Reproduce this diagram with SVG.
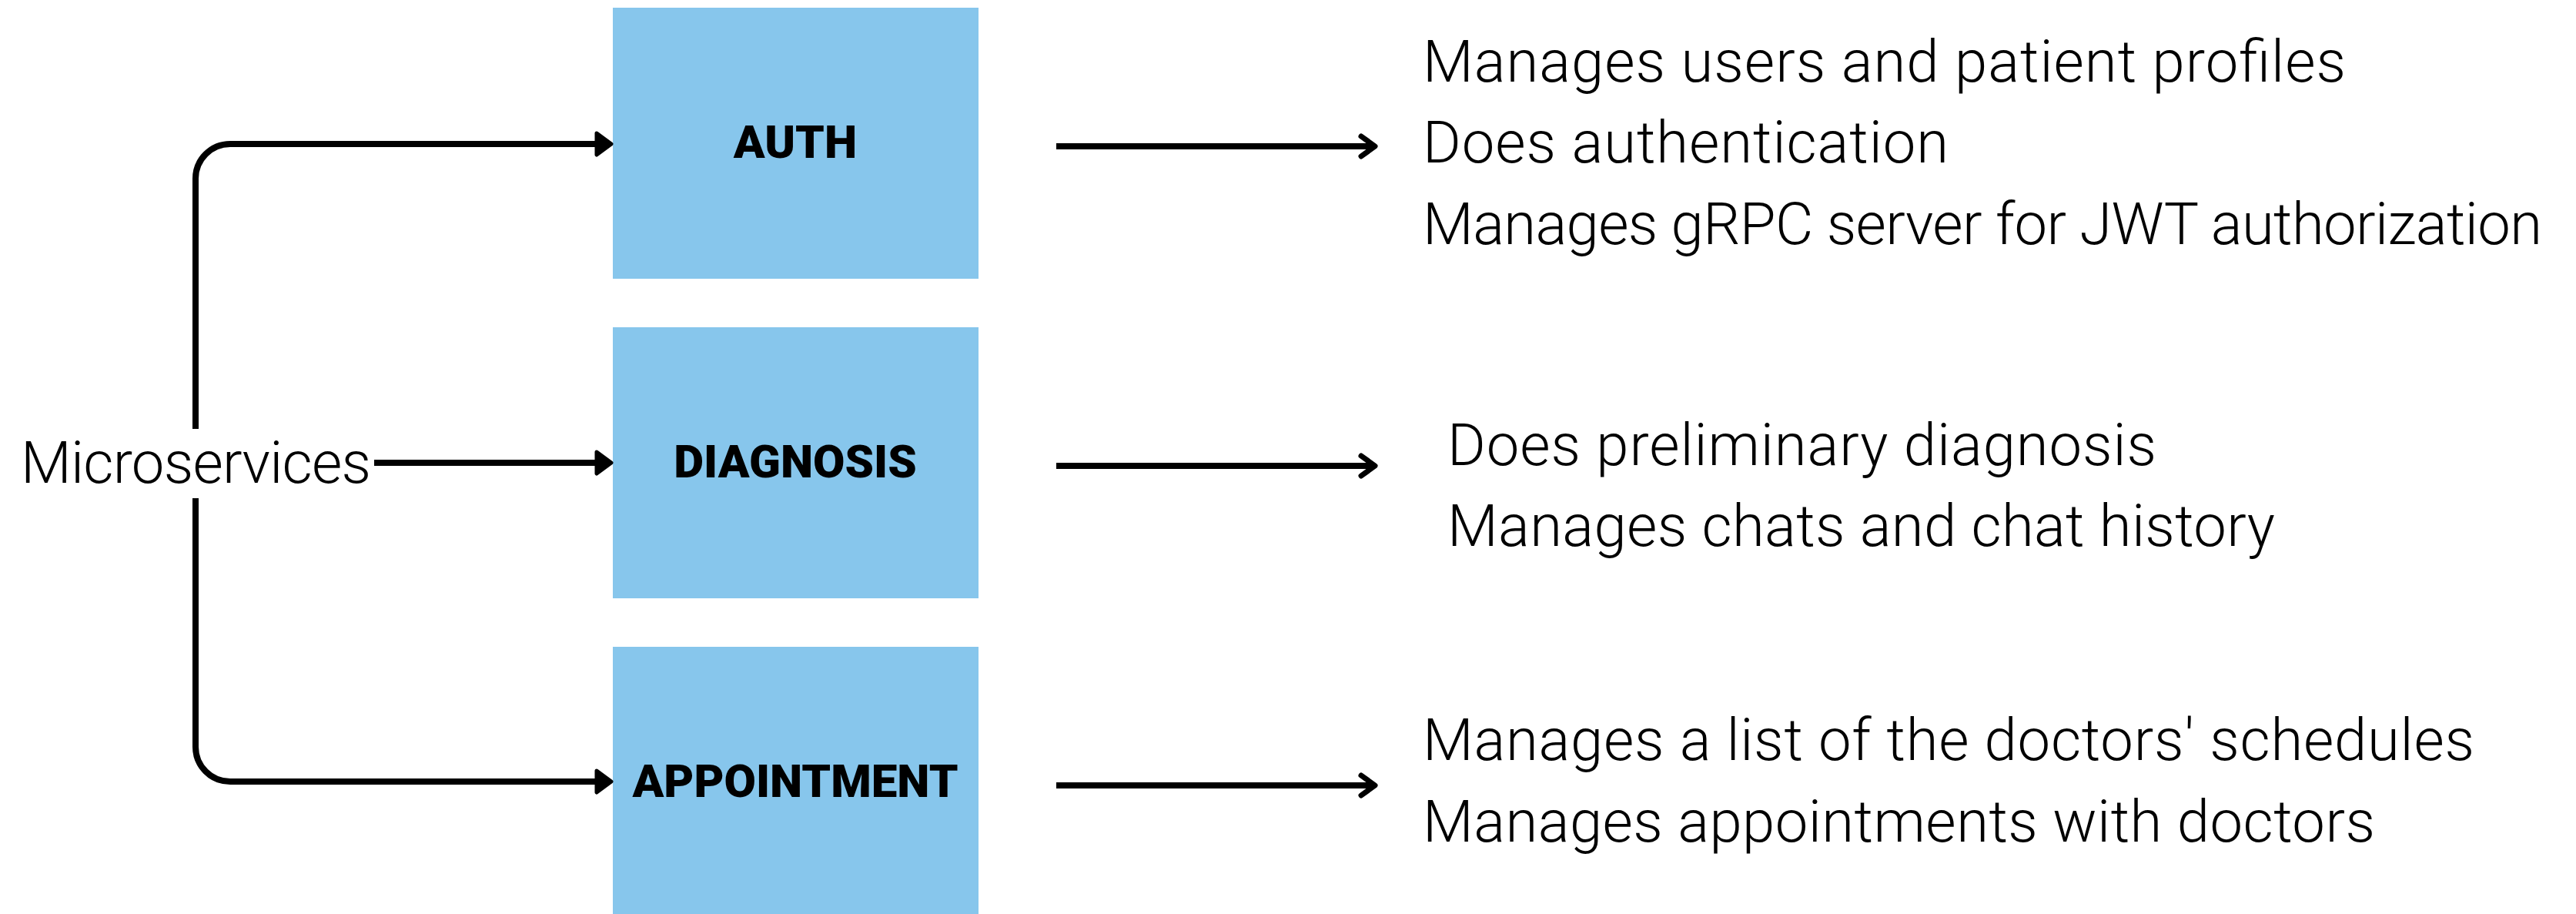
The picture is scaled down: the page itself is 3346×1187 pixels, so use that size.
<svg xmlns="http://www.w3.org/2000/svg" width="3346" height="1187" viewBox="0 0 3346 1187">
  <style>
    .box { fill: #87C6EC; }
    .label { font-family: Roboto, "Liberation Sans", sans-serif; font-weight: 900; font-size: 60px; fill: #000; text-anchor: middle; }
    .desc { font-family: Roboto, "Liberation Sans", sans-serif; font-weight: 300; font-size: 76px; fill: #000; }
    .wire { fill: none; stroke: #000; stroke-width: 8; }
  </style>
  <defs>
    <marker id="solid-head" markerUnits="userSpaceOnUse" viewBox="0 0 26 34" markerWidth="26" markerHeight="34" refX="8" refY="17" orient="auto">
      <path d="M3 3 L22 17 L3 31 Z" fill="#000" stroke="#000" stroke-width="5" stroke-linejoin="round"/>
    </marker>
    <marker id="open-head" markerUnits="userSpaceOnUse" viewBox="0 0 28 34" markerWidth="28" markerHeight="34" refX="22" refY="17" orient="auto">
      <path d="M4 4 L22 17 L4 30" fill="none" stroke="#000" stroke-width="7" stroke-linecap="round" stroke-linejoin="round"/>
    </marker>
  </defs>

  <!-- root label -->
  <g id="microservices">
    <text class="desc" x="27" y="627" textLength="455" lengthAdjust="spacing">Microservices</text>
  </g>

  <!-- service boxes -->
  <g id="auth">
    <rect class="box" x="796" y="10" width="475" height="352"/>
    <text class="label" x="1033" y="205">AUTH</text>
  </g>
  <g id="diagnosis">
    <rect class="box" x="796" y="425" width="475" height="352"/>
    <text class="label" x="1033" y="620">DIAGNOSIS</text>
  </g>
  <g id="appointment">
    <rect class="box" x="796" y="840" width="475" height="352"/>
    <text class="label" x="1033" y="1035">APPOINTMENT</text>
  </g>

  <!-- responsibilities -->
  <g id="auth-notes">
    <text class="desc" x="1848" y="106" textLength="1199" lengthAdjust="spacing">Manages users and patient profiles</text>
    <text class="desc" x="1848" y="211" textLength="683" lengthAdjust="spacing">Does authentication</text>
    <text class="desc" x="1848" y="317" textLength="1454" lengthAdjust="spacing">Manages gRPC server for JWT authorization</text>
  </g>
  <g id="diagnosis-notes">
    <text class="desc" x="1880" y="604" textLength="921" lengthAdjust="spacing">Does preliminary diagnosis</text>
    <text class="desc" x="1880" y="709" textLength="1075" lengthAdjust="spacing">Manages chats and chat history</text>
  </g>
  <g id="appointment-notes">
    <text class="desc" x="1848" y="987" textLength="1366" lengthAdjust="spacing">Manages a list of the doctors' schedules</text>
    <text class="desc" x="1848" y="1093" textLength="1237" lengthAdjust="spacing">Manages appointments with doctors</text>
  </g>

  <!-- connectors -->
  <g id="connectors">
    <path class="wire" d="M254 557 V232 A45 45 0 0 1 299 187 H780" marker-end="url(#solid-head)"/>
    <path class="wire" d="M486 601 H780" marker-end="url(#solid-head)"/>
    <path class="wire" d="M254 647 V970 A45 45 0 0 0 299 1015 H780" marker-end="url(#solid-head)"/>
    <path class="wire" d="M1372 190 H1786" marker-end="url(#open-head)"/>
    <path class="wire" d="M1372 605 H1786" marker-end="url(#open-head)"/>
    <path class="wire" d="M1372 1020 H1786" marker-end="url(#open-head)"/>
  </g>
</svg>
